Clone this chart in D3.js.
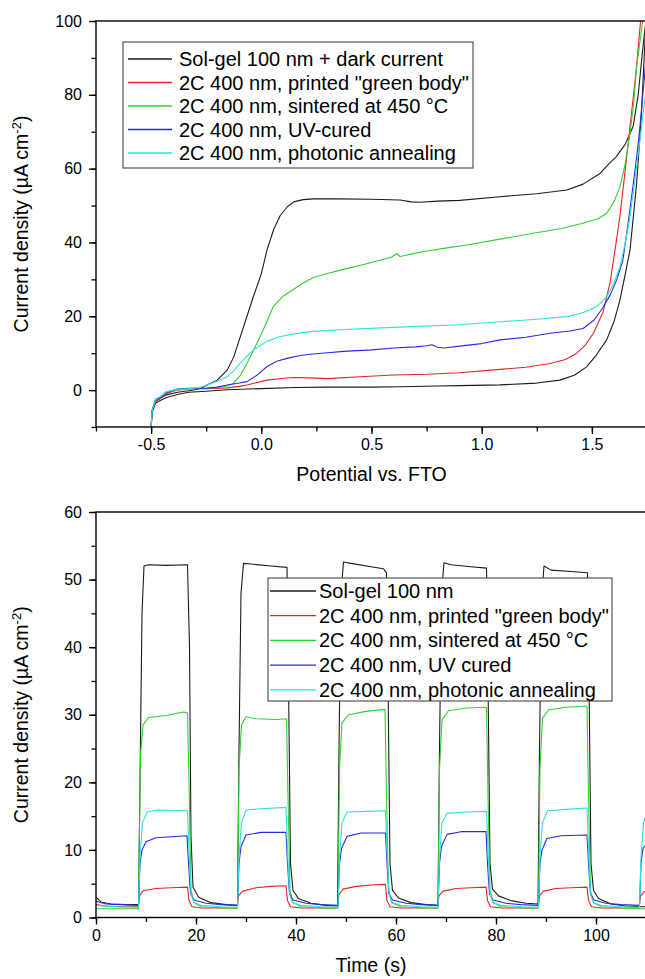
<!DOCTYPE html>
<html><head><meta charset="utf-8">
<script src="https://cdn.jsdelivr.net/npm/d3@7"></script>
<style>
html,body{margin:0;padding:0;background:#fff;}
svg{display:block;font-family:"Liberation Sans",Arial,sans-serif;}
</style></head>
<body>
<svg id="chart" width="645" height="979"></svg>
<script>
// ---------- Top panel: linear sweep voltammetry (potential V, current density µA cm-2)
const lsvLabels = ["Sol-gel 100 nm + dark current","2C 400 nm, printed \"green body\"","2C 400 nm, sintered at 450 °C","2C 400 nm, UV-cured","2C 400 nm, photonic annealing"];
const lsvSolgel = [[-0.5,-10],[-0.495,-5.5],[-0.48,-3],[-0.458,-2.2],[-0.43,-1.3],[-0.38,-0.6],[-0.33,-0.2],[-0.3,0.1],[-0.27,0.6],[-0.246,1.4],[-0.2,2.7],[-0.155,5.4],[-0.125,9],[-0.095,14.5],[-0.065,20],[-0.035,25.5],[0,31.5],[0.026,38],[0.056,43.5],[0.086,47.3],[0.117,49.6],[0.147,51],[0.19,51.6],[0.237,51.8],[0.35,51.8],[0.5,51.7],[0.63,51.5],[0.68,51],[0.72,50.9],[0.8,51.2],[0.9,51.4],[1.083,52.4],[1.25,53.2],[1.386,54.2],[1.46,55.8],[1.537,58.7],[1.58,61.5],[1.61,63.2],[1.65,66.5],[1.687,71.4],[1.71,80],[1.73,92],[1.745,100]];
const lsvDark = [[-0.5,-10],[-0.495,-6],[-0.48,-3.5],[-0.458,-2.8],[-0.43,-2],[-0.38,-1.2],[-0.33,-0.6],[-0.25,-0.3],[-0.155,0.1],[0,0.4],[0.15,0.7],[0.3,0.8],[0.5,0.8],[0.63,0.9],[0.8,1.1],[0.9,1.2],[1.083,1.4],[1.25,1.9],[1.355,2.7],[1.42,4.0],[1.476,6.3],[1.52,9.5],[1.567,13.6],[1.6,18.5],[1.627,24.4],[1.65,31],[1.673,38],[1.703,56],[1.725,75],[1.745,100]];
const lsvGreenBody = [[-0.5,-10],[-0.495,-5.5],[-0.48,-3],[-0.458,-2.3],[-0.43,-0.9],[-0.382,0],[-0.33,0.3],[-0.25,0.4],[-0.155,0.6],[-0.1,1.0],[-0.065,1.4],[0.026,2.7],[0.1,3.2],[0.147,3.4],[0.22,3.3],[0.298,3.1],[0.449,3.6],[0.6,4.1],[0.75,4.3],[0.9,4.7],[1.083,5.6],[1.2,6.2],[1.31,7.2],[1.38,8.3],[1.431,10],[1.47,12.2],[1.507,15.4],[1.55,21],[1.582,29],[1.605,38],[1.627,47],[1.65,59],[1.673,71.4],[1.7,86],[1.72,99.4],[1.723,101]];
const lsvSintered = [[-0.5,-10],[-0.495,-5.5],[-0.48,-2.5],[-0.458,-1.8],[-0.43,-0.45],[-0.382,0.2],[-0.33,0.4],[-0.25,0.5],[-0.2,0.7],[-0.155,1.1],[-0.127,1.8],[-0.095,4],[-0.065,7.3],[-0.035,10.8],[-0.005,14.5],[0.025,18.5],[0.055,22.7],[0.1,25.5],[0.147,27.3],[0.19,29],[0.237,30.5],[0.3,31.6],[0.373,32.7],[0.45,33.8],[0.525,35],[0.59,36],[0.615,37],[0.63,36.2],[0.645,36.4],[0.7,37.1],[0.751,37.7],[0.85,38.6],[0.932,39.3],[1.083,40.9],[1.235,42.5],[1.36,43.8],[1.46,45.2],[1.53,46.5],[1.567,47.9],[1.6,51],[1.627,55],[1.65,61],[1.673,69.6],[1.69,78],[1.703,87.6],[1.733,101]];
const lsvUV = [[-0.5,-10],[-0.495,-5.5],[-0.48,-2.5],[-0.458,-2],[-0.43,-0.7],[-0.382,0.3],[-0.33,0.5],[-0.25,0.5],[-0.2,0.8],[-0.155,1.4],[-0.1,1.9],[-0.065,2.3],[-0.02,4],[0.026,6.4],[0.07,7.8],[0.117,8.6],[0.17,9.3],[0.222,9.7],[0.3,10.1],[0.373,10.5],[0.5,10.9],[0.6,11.4],[0.7,11.7],[0.751,12],[0.775,12.3],[0.8,11.6],[0.83,11.4],[0.9,11.9],[1.0,12.6],[1.083,13.6],[1.2,14.3],[1.31,15.4],[1.4,16],[1.46,16.7],[1.51,19],[1.552,22.5],[1.585,26],[1.612,29.8],[1.64,35],[1.658,42.5],[1.675,50],[1.688,56],[1.705,64],[1.718,71.4],[1.74,86],[1.75,92]];
const lsvPhotonic = [[-0.5,-10],[-0.495,-5.5],[-0.48,-2.5],[-0.458,-1.8],[-0.43,-0.45],[-0.382,0.2],[-0.33,0.4],[-0.28,0.7],[-0.246,1.4],[-0.2,2.4],[-0.155,3.6],[-0.125,5.3],[-0.095,7.3],[-0.065,9.2],[-0.035,10.9],[0.026,13.2],[0.086,14.5],[0.177,15.5],[0.237,15.9],[0.373,16.4],[0.6,17],[0.9,17.7],[1.083,18.5],[1.25,19.2],[1.386,19.9],[1.45,20.8],[1.491,21.7],[1.53,23],[1.567,25.3],[1.6,29],[1.627,33.4],[1.65,39.5],[1.673,47],[1.703,60.5],[1.74,78.6],[1.75,83]];
const topXTicks = [-0.5,0.0,0.5,1.0,1.5];
const topYTicks = [0,20,40,60,80,100];

// ---------- Bottom panel: chopped-light chronoamperometry (time s, current density)
const ctLabels = ["Sol-gel 100 nm","2C 400 nm, printed \"green body\"","2C 400 nm, sintered at 450 °C","2C 400 nm, UV cured","2C 400 nm, photonic annealing"];
const ctSolgel = [[0,3.0],[1,2.3],[3,2.0],[6,1.9],[8.5,1.9],[8.8,20],[9.2,45],[9.6,52.0],[10.5,52.2],[14,52.1],[18.3,52.2],[18.7,40],[19.0,12],[19.4,4.5],[20.5,3.0],[23,2.2],[26,1.9],[28.3,1.8],[28.6,25],[29.0,48],[29.5,52.4],[31,52.3],[35,52.0],[38.2,51.8],[38.5,35],[38.9,8],[39.4,4.0],[40.5,2.8],[43,2.1],[46,1.8],[48.3,1.7],[48.6,25],[49.0,48],[49.5,52.6],[51,52.4],[55,51.9],[57.5,51.6],[58.1,51.0],[58.4,35],[58.8,8],[59.3,4.0],[60.5,2.9],[63,2.2],[66,1.9],[68.4,1.8],[68.7,25],[69.1,48],[69.6,52.5],[71,52.2],[75,51.9],[78.1,51.7],[78.4,35],[78.8,8],[79.3,4.2],[80.5,3.2],[83,2.5],[86,2.1],[88.4,2.0],[88.7,25],[89.1,47],[89.6,52.0],[91,51.4],[95,51.2],[98.3,51.0],[98.6,35],[99,8],[99.5,4.0],[100.5,2.8],[103,2.0],[106,1.7],[108.7,1.6],[110,1.6]];
const ctGreenBody = [[0,1.9],[2,1.7],[5,1.6],[8.4,1.6],[8.8,3.4],[9.5,4.0],[12,4.3],[15,4.4],[18.3,4.5],[18.6,2.5],[19.2,1.6],[21,1.4],[25,1.4],[28.2,1.4],[28.5,3.2],[29.3,3.9],[32,4.4],[35,4.6],[38.0,4.7],[38.3,2.5],[38.9,1.6],[41,1.4],[45,1.4],[48.3,1.4],[48.6,3.4],[49.4,4.2],[52,4.6],[55,4.8],[57.9,4.9],[58.2,2.5],[58.8,1.6],[61,1.4],[65,1.4],[68.3,1.4],[68.6,3.2],[69.4,3.9],[72,4.3],[75,4.4],[78.0,4.5],[78.3,2.5],[78.9,1.6],[81,1.4],[85,1.4],[88.4,1.4],[88.7,3.2],[89.5,3.9],[92,4.3],[95,4.4],[98.2,4.5],[98.5,2.5],[99.1,1.6],[101,1.4],[105,1.4],[108.6,1.4],[108.9,3.2],[109.6,3.8],[110,3.9]];
const ctSintered = [[0,1.3],[4,1.3],[8.5,1.3],[8.9,24],[9.4,28.5],[10.5,29.6],[14,29.9],[17.5,30.4],[18.3,30.3],[18.6,20],[19.0,4],[19.6,2.2],[21,1.6],[25,1.4],[28.3,1.4],[28.6,22],[29.1,28.5],[30,29.7],[32,29.4],[36,29.3],[38.1,29.4],[38.4,18],[38.8,4],[39.4,2.2],[41,1.6],[45,1.4],[48.4,1.4],[48.7,22],[49.2,28.8],[50.5,30.0],[54,30.5],[57.8,30.8],[58.1,18],[58.5,4],[59.1,2.2],[61,1.6],[65,1.4],[68.4,1.4],[68.7,22],[69.2,29.2],[70.5,30.6],[74,31.0],[78.1,31.1],[78.4,18],[78.8,4],[79.4,2.2],[81,1.6],[85,1.4],[88.5,1.4],[88.8,22],[89.3,29.5],[90.5,30.7],[94,31.1],[98.2,31.3],[98.5,18],[98.9,4],[99.5,2.2],[101,1.6],[105,1.4],[108.7,1.3],[110,1.3]];
const ctUV = [[0,2.4],[2,2.0],[5,1.9],[8.5,1.8],[8.8,8],[9.2,10],[10,11.2],[12,11.8],[18.2,12.1],[18.5,8],[18.9,3.5],[19.6,2.6],[22,2.1],[25,1.9],[28.3,1.8],[28.6,8],[29.0,10.5],[30,12.2],[33,12.6],[38.0,12.6],[38.3,8],[38.7,3.5],[39.4,2.6],[42,2.1],[45,1.9],[48.4,1.8],[48.7,8],[49.1,10.2],[50.2,12.0],[53,12.5],[57.9,12.5],[58.2,8],[58.6,3.5],[59.3,2.6],[62,2.1],[65,1.9],[68.4,1.8],[68.7,8],[69.1,10.5],[70.2,12.3],[73,12.7],[78.0,12.7],[78.3,8],[78.7,3.5],[79.4,2.6],[82,2.1],[85,1.9],[88.5,1.8],[88.8,8],[89.2,10],[90.2,11.7],[93,12.1],[98.2,12.2],[98.5,8],[98.9,3.5],[99.6,2.6],[102,2.1],[105,1.9],[108.7,1.8],[109.0,8],[109.4,10.2],[110,10.8]];
const ctPhotonic = [[0,1.8],[4,1.6],[8.5,1.5],[8.8,9],[9.3,14],[10.2,15.6],[12,15.9],[18.3,15.8],[18.6,10],[19.0,3.5],[19.6,2.2],[21,1.8],[25,1.6],[28.3,1.5],[28.6,9],[29.1,14],[30,15.9],[33,16.1],[38.0,16.3],[38.3,10],[38.7,3.5],[39.3,2.2],[41,1.8],[45,1.6],[48.4,1.5],[48.7,9],[49.2,14],[50.2,15.6],[54,15.7],[57.9,15.8],[58.2,10],[58.6,3.5],[59.2,2.2],[61,1.8],[65,1.6],[68.4,1.5],[68.7,9],[69.2,14],[70.2,15.4],[74,15.6],[78.1,15.7],[78.4,10],[78.8,3.5],[79.4,2.2],[81,1.8],[85,1.6],[88.5,1.5],[88.8,9],[89.3,14],[90.3,15.8],[94,16.0],[98.2,16.2],[98.5,10],[98.9,3.5],[99.5,2.2],[101,1.8],[105,1.6],[108.7,1.5],[109.0,9],[109.5,14],[110,15.2]];
const botXTicks = [0,20,40,60,80,100];
const botYTicks = [0,10,20,30,40,50,60];

const colors = ["#1c1c1c","#e82424","#30d030","#2b2be6","#2ee0e0"];

const svg = d3.select("#chart");
const FONT = "'Liberation Sans', Arial, sans-serif";

function panel(cfg){
  const g = svg.append("g");
  const x = d3.scaleLinear().domain(cfg.xDomain).range([cfg.left, cfg.right]);
  const y = d3.scaleLinear().domain(cfg.yDomain).range([cfg.bottom, cfg.top]);
  const clipId = "clip" + cfg.id;
  svg.append("defs").append("clipPath").attr("id", clipId)
    .append("rect").attr("x", cfg.left).attr("y", cfg.top)
    .attr("width", cfg.right - cfg.left).attr("height", cfg.bottom - cfg.top);

  const line = d3.line().x(d => x(d[0])).y(d => y(d[1]));
  const lines = g.append("g").attr("clip-path", `url(#${clipId})`);
  cfg.series.forEach(s => {
    lines.append("path").datum(s.data).attr("d", line)
      .attr("fill","none").attr("stroke", colors[s.c]).attr("stroke-width", 1.1)
      .attr("stroke-linejoin","round");
  });

  g.append("rect").attr("x", cfg.left).attr("y", cfg.top)
    .attr("width", cfg.right - cfg.left).attr("height", cfg.bottom - cfg.top)
    .attr("fill","none").attr("stroke","#000").attr("stroke-width",1.4);

  const xMinor = d3.range(cfg.xDomain[0], cfg.xDomain[1] + 1e-9, cfg.xMinorStep);
  const yMinor = d3.range(cfg.yDomain[0], cfg.yDomain[1] + 1e-9, cfg.yMinorStep);
  const xAxisMinor = d3.axisBottom(x).tickValues(xMinor).tickSize(4.5).tickFormat("");
  const yAxisMinor = d3.axisLeft(y).tickValues(yMinor).tickSize(4.5).tickFormat("");
  const xAxis = d3.axisBottom(x).tickValues(cfg.xTicks).tickSize(7).tickPadding(5).tickFormat(cfg.xFmt);
  const yAxis = d3.axisLeft(y).tickValues(cfg.yTicks).tickSize(7).tickPadding(7).tickFormat(d => String(d));

  [xAxisMinor, xAxis].forEach(a => {
    g.append("g").attr("transform", `translate(0,${cfg.bottom})`).call(a)
      .call(s => s.select(".domain").remove());
  });
  [yAxisMinor, yAxis].forEach(a => {
    g.append("g").attr("transform", `translate(${cfg.left},0)`).call(a)
      .call(s => s.select(".domain").remove());
  });
  g.selectAll(".tick line").attr("stroke","#000").attr("stroke-width",1.3);
  g.selectAll(".tick text").attr("font-family", FONT).attr("font-size", 16).attr("fill","#000");

  g.append("text").attr("x", (cfg.left + cfg.right) / 2).attr("y", cfg.xTitleY)
    .attr("text-anchor","middle").attr("font-family",FONT).attr("font-size",19.5)
    .text(cfg.xTitle);
  const yt = g.append("text")
    .attr("transform", `translate(28,${(cfg.top + cfg.bottom) / 2}) rotate(-90)`)
    .attr("text-anchor","middle").attr("font-family",FONT).attr("font-size",19.5);
  yt.append("tspan").text("Current density (µA cm");
  yt.append("tspan").attr("dy",-7).attr("font-size",13).text("-2");
  yt.append("tspan").attr("dy",7).text(")");

  const L = cfg.legend;
  const lg = g.append("g");
  lg.append("rect").attr("x", L.x0).attr("y", L.y0).attr("width", L.x1 - L.x0).attr("height", L.y1 - L.y0)
    .attr("fill","#fff").attr("stroke","#555").attr("stroke-width",1.2);
  cfg.labels.forEach((lab, i) => {
    const cy = L.row0 + i * L.rowStep;
    lg.append("line").attr("x1", L.lx0).attr("x2", L.lx1).attr("y1", cy).attr("y2", cy)
      .attr("stroke", colors[i]).attr("stroke-width", 1.3);
    lg.append("text").attr("x", L.tx).attr("y", cy + 7).attr("font-family",FONT)
      .attr("font-size",20).attr("fill","#000").text(lab);
  });
}

panel({
  id:"top", left:96, right:647, top:21, bottom:427,
  xDomain:[-0.75,1.75], yDomain:[-10,100], xMinorStep:0.25, yMinorStep:10,
  xTicks: topXTicks, yTicks: topYTicks, xFmt: d => d.toFixed(1),
  xTitle:"Potential vs. FTO", xTitleY:481,
  series:[{data:lsvSolgel,c:0},{data:lsvDark,c:0},{data:lsvGreenBody,c:1},{data:lsvSintered,c:2},{data:lsvUV,c:3},{data:lsvPhotonic,c:4}],
  labels: lsvLabels,
  legend:{x0:123,x1:473,y0:42,y1:168,row0:59,rowStep:23.5,lx0:128,lx1:172,tx:179}
});

panel({
  id:"bot", left:96, right:646, top:512, bottom:917.5,
  xDomain:[0,110], yDomain:[0,60], xMinorStep:10, yMinorStep:5,
  xTicks: botXTicks, yTicks: botYTicks, xFmt: d => String(d),
  xTitle:"Time (s)", xTitleY:972,
  series:[{data:ctSolgel,c:0},{data:ctGreenBody,c:1},{data:ctSintered,c:2},{data:ctUV,c:3},{data:ctPhotonic,c:4}],
  labels: ctLabels,
  legend:{x0:268,x1:612,y0:578,y1:701,row0:591,rowStep:24.7,lx0:270,lx1:316,tx:319}
});
</script>
</body></html>
